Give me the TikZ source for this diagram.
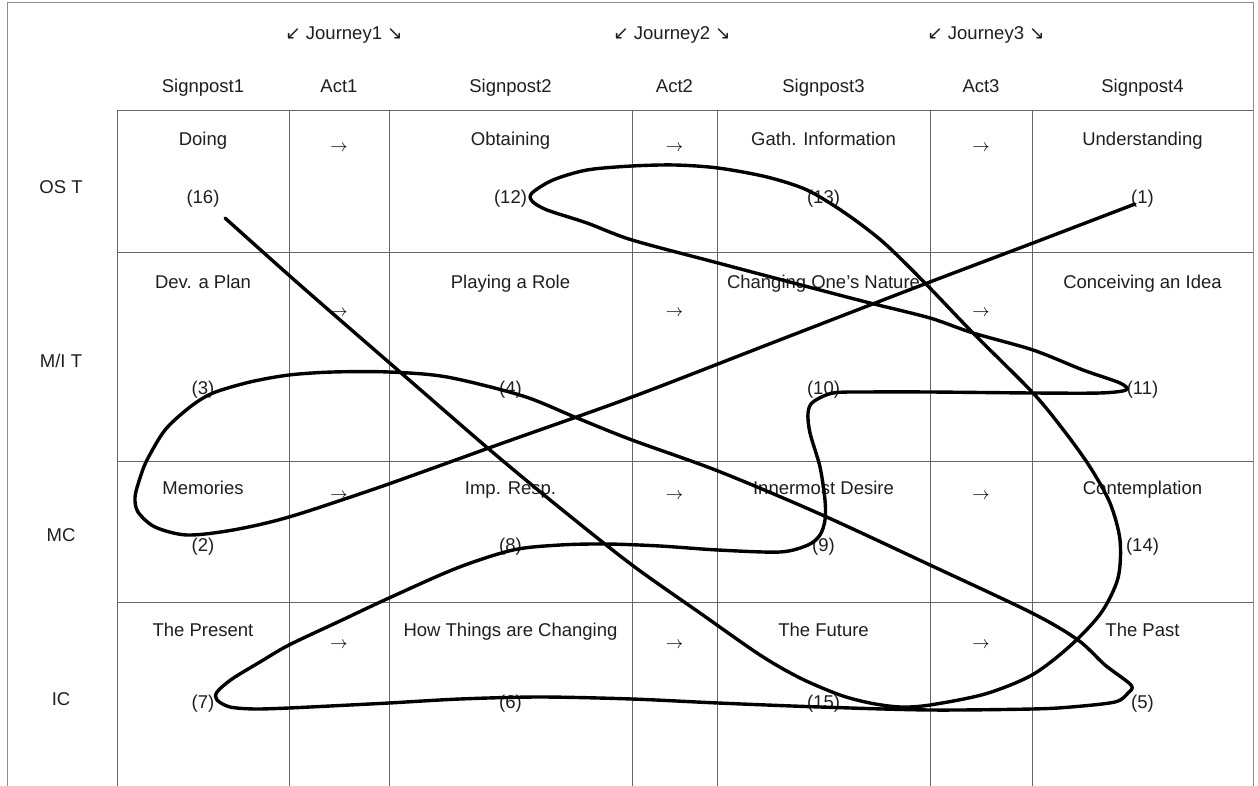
\documentclass[tikz,border=0pt]{standalone}
\usepackage{fontspec}
\setmainfont{Liberation Sans}
\newfontfamily\djv{DejaVu Sans}
\begin{document}
\begin{tikzpicture}[x=1pt,y=-1pt,
  txt/.style={font=\fontsize{18.5}{22}\selectfont, text=black!88, inner sep=0pt, text height=13.2pt, text depth=0pt, anchor=center},
  arr/.style={txt, text=black},
  grid/.style={draw=black!60, line width=1pt},
  frame/.style={draw=black!45, line width=1pt},
  curve/.style={draw=black, line width=3.4pt, line join=round, line cap=round}]
\useasboundingbox (0,0) rectangle (1258,786);
\fill[white] (0,0) rectangle (1258,786);
% frame
\draw[frame] (7,786) -- (7,3) -- (1253,3) -- (1253,786);
% grid
\foreach \yy in {111,253,461,602} \draw[grid] (117,\yy) -- (1253,\yy);
\foreach \xx in {117,289,389,632,717,930,1032} \draw[grid] (\xx,111) -- (\xx,786);
% journeys
\node[txt] (j1) at (344,33) {{\djv ↙} Journey1 {\djv ↘}};
\node[txt] (j2) at (672,33) {{\djv ↙} Journey2 {\djv ↘}};
\node[txt] (j3) at (986,33) {{\djv ↙} Journey3 {\djv ↘}};
% headers
\node[txt] (h1) at (203,86) {Signpost1};
\node[txt] (h2) at (339,86) {Act1};
\node[txt] (h3) at (510.5,86) {Signpost2};
\node[txt] (h4) at (674.5,86) {Act2};
\node[txt] (h5) at (823.5,86) {Signpost3};
\node[txt] (h6) at (981,86) {Act3};
\node[txt] (h7) at (1142.5,86) {Signpost4};
% row labels
\node[txt] (r1) at (61,187) {OS T};
\node[txt] (r2) at (61,361) {M/I T};
\node[txt] (r3) at (61,535) {MC};
\node[txt] (r4) at (61,699) {IC};
% row 1
\node[txt] (t11) at (203,139) {Doing};
\node[txt] (t12) at (510.5,139) {Obtaining};
\node[txt] (t13) at (823.5,139) {Gath. Information};
\node[txt] (t14) at (1142.5,139) {Understanding};
\node[arr] (a11) at (339,145) {$\rightarrow$};
\node[arr] (a12) at (674.5,145) {$\rightarrow$};
\node[arr] (a13) at (981,145) {$\rightarrow$};
\node[txt] (n16) at (203,197) {(16)};
\node[txt] (n12) at (510.5,197) {(12)};
\node[txt] (n13) at (823.5,197) {(13)};
\node[txt] (n1) at (1142.5,197) {(1)};
% row 2
\node[txt] (t21) at (203,282) {Dev. a Plan};
\node[txt] (t22) at (510.5,282) {Playing a Role};
\node[txt] (t23) at (823.5,282) {Changing One’s Nature};
\node[txt] (t24) at (1142.5,282) {Conceiving an Idea};
\node[arr] (a21) at (339,310) {$\rightarrow$};
\node[arr] (a22) at (674.5,310) {$\rightarrow$};
\node[arr] (a23) at (981,310) {$\rightarrow$};
\node[txt] (n3) at (203,388) {(3)};
\node[txt] (n4) at (510.5,388) {(4)};
\node[txt] (n10) at (823.5,388) {(10)};
\node[txt] (n11) at (1142.5,388) {(11)};
% row 3
\node[txt] (t31) at (203,488) {Memories};
\node[txt] (t32) at (510.5,488) {Imp. Resp.};
\node[txt] (t33) at (823.5,488) {Innermost Desire};
\node[txt] (t34) at (1142.5,488) {Contemplation};
\node[arr] (a31) at (339,493) {$\rightarrow$};
\node[arr] (a32) at (674.5,493) {$\rightarrow$};
\node[arr] (a33) at (981,493) {$\rightarrow$};
\node[txt] (n2) at (203,545) {(2)};
\node[txt] (n8) at (510.5,545) {(8)};
\node[txt] (n9) at (823.5,545) {(9)};
\node[txt] (n14) at (1142.5,545) {(14)};
% row 4
\node[txt] (t41) at (203,630) {The Present};
\node[txt] (t42) at (510.5,630) {How Things are Changing};
\node[txt] (t43) at (823.5,630) {The Future};
\node[txt] (t44) at (1142.5,630) {The Past};
\node[arr] (a41) at (339,642) {$\rightarrow$};
\node[arr] (a42) at (674.5,642) {$\rightarrow$};
\node[arr] (a43) at (981,642) {$\rightarrow$};
\node[txt] (n7) at (203,702) {(7)};
\node[txt] (n6) at (510.5,702) {(6)};
\node[txt] (n15) at (823.5,702) {(15)};
\node[txt] (n5) at (1142.5,702) {(5)};
% path
\draw[curve] plot[smooth, tension=0.5] coordinates {
(1135,204) (1033,243) (922,285) (777,341) (632,397) (500,444) (380,487) (289,517)
(233,530) (187,535) (155,527) (138,512) (135,497) (140,478) (147,460) (165,430)
(190,407) (213,393) (250,382) (289,375) (333,372) (389,372) (447,377) (523,396)
(577,418) (632,440) (718,471) (820,514) (930,565) (1032,613) (1078,640) (1105,665)
(1131,685) (1128,693) (1115,702) (1071,707) (1032,709) (930,710) (820,707) (718,703)
(632,699) (540,697) (460,699) (389,703) (330,706) (289,708) (255,709) (230,707)
(217,700) (217,692) (232,679) (260,662) (289,645) (340,621) (389,598) (457,568)
(513,550) (560,545) (607,544)
(660,546) (718,550) (780,552) (808,545) (820,535) (825,520) (825,500) (820,467)
(810,433) (808,413) (813,402) (833,393) (867,392) (930,392) (1033,393) (1100,393)
(1126,390) (1120,383) (1083,370) (1033,350) (973,333) (930,318) (870,303) (820,290)
(718,263) (632,240) (587,223) (547,210) (532,201) (532,193) (553,180) (587,170)
(632,166) (675,165) (718,168) (767,177) (807,190) (845,213) (883,242) (925,283)
(973,333) (1033,393) (1065,432) (1090,467) (1110,503) (1120,540) (1118,578) (1101,613)
(1070,646) (1032,675) (985,694) (930,705) (900,707) (870,703) (840,695) (800,678)
(760,655) (700,613) (632,565) (560,508) (490,450) (400,372)
(300,285) (225,218)};
\end{tikzpicture}
\end{document}
